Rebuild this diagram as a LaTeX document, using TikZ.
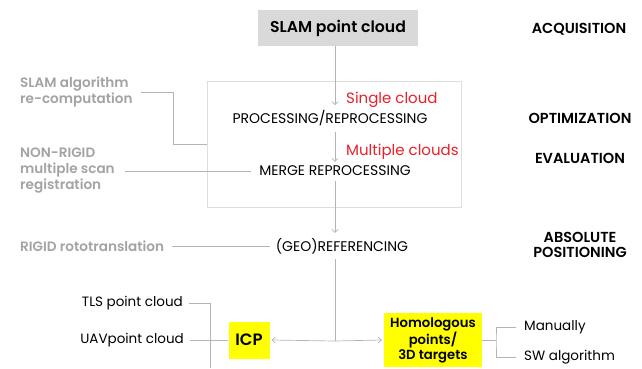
\documentclass[tikz,border=0pt]{standalone}
\usepackage{fontspec}
\setmainfont{Poppins}[BoldFont={Poppins SemiBold}]
\usetikzlibrary{arrows.meta}
\definecolor{sidegrey}{HTML}{A3A3A3}
\definecolor{linegrey}{HTML}{B4B4B4}
\definecolor{slamgrey}{HTML}{D9D9D9}
\definecolor{framegrey}{HTML}{DEDEDE}
\definecolor{cloudred}{HTML}{E8202A}
\definecolor{hlyellow}{HTML}{FFFF00}

\begin{document}
\begin{tikzpicture}[x=1pt, y=-1pt,
    every node/.style={inner sep=0pt},
    stage/.style={font=\fontsize{14.5}{15.5}\selectfont\bfseries, align=center},
    method/.style={font=\fontsize{13.6}{16}\selectfont\bfseries, text=sidegrey, align=left, anchor=west},
    proc/.style={font=\fontsize{14}{15}\selectfont},
    cloud/.style={font=\fontsize{15}{17}\selectfont, text=cloudred, anchor=west},
    hl/.style={fill=hlyellow, font=\fontsize{13.2}{15}\selectfont\bfseries, align=center},
    item/.style={font=\fontsize{13.5}{15}\selectfont},
    conn/.style={draw=linegrey, line width=0.7pt},
    arr/.style={-{Straight Barb[length=3pt, width=6pt]}}]

\useasboundingbox (0,0) rectangle (642,368);

% Main chain
\node[fill=slamgrey, minimum width=160pt, minimum height=36pt,
      font=\fontsize{15.7}{17}\selectfont\bfseries] (slam) at (338,28) {SLAM point cloud};
\node[draw=framegrey, line width=0.7pt, minimum width=254pt, minimum height=126pt] (frame) at (334,144) {};
\node[cloud] (single) at (346,100) {Single cloud};
\node[proc] (proc) at (330,118) {PROCESSING/REPROCESSING};
\node[cloud] (multi) at (346,152) {Multiple clouds};
\node[proc] (merge) at (335,171) {MERGE REPROCESSING};
\node[proc] (georef) at (342,246) {(GEO)REFERENCING};

\coordinate (spine) at (335,0);
\coordinate (hub) at (335,341);
\draw[conn, arr] (spine |- slam.south) -- ([yshift=5pt]spine |- proc.north);
\draw[conn, arr] ([yshift=-6pt]spine |- proc.south) -- ([yshift=4pt]spine |- merge.north);
\draw[conn, arr] ([yshift=-5pt]spine |- merge.south) -- ([yshift=5pt]spine |- georef.north);
\draw[conn] ([yshift=-5pt]spine |- georef.south) -- (hub);

% Stages
\node[stage] (acq) at (579,29) {ACQUISITION};
\node[stage] (opt) at (580,118) {OPTIMIZATION};
\node[stage] (eval) at (580,158) {EVALUATION};
\node[stage] (abspos) at (580,245) {ABSOLUTE\\POSITIONING};

% Alternative methods
\node[method] (slamalg) at (20,92) {SLAM algorithm\\re-computation};
\node[method] (nonrigid) at (20,171) {NON-RIGID\\multiple scan\\registration};
\node[method] (rigid) at (20,246) {RIGID rototranslation};

\coordinate (sa) at (173,144);
\draw[conn] ([xshift=8pt]slamalg.east) -| (sa) -- (sa -| frame.west);
\draw[conn] ([xshift=10pt]nonrigid.east) -- ([xshift=-8pt]merge.west);
\draw[conn] ([xshift=8pt]rigid.east) -- ([xshift=-6pt]georef.west);

% Registration
\node[hl, minimum width=41pt, minimum height=37pt, font=\fontsize{16.5}{17}\selectfont\bfseries] (icp) at (249,340) {ICP};
\node[hl, minimum width=98pt, minimum height=54pt] (homol) at (433,340) {Homologous\\points/\\3D targets};
\draw[conn, arr] (hub) -- ([xshift=2pt]icp.east);
\draw[conn, arr] (hub) -- ([xshift=-2pt]homol.west);

\node[item, anchor=east] (tls) at (183,303) {TLS point cloud};
\node[item, anchor=east] (uav) at (184,340) {UAVpoint cloud};
\coordinate (tlsend) at (210,368);
\draw[conn] ([xshift=6pt]tls.east) -| (tlsend);
\draw[conn] ([xshift=6pt]uav.east) -- (icp.west);

\node[item, anchor=west] (manual) at (524,327) {Manually};
\node[item, anchor=west] (swalg) at (524,357) {SW algorithm};
\coordinate (brk) at (496,340);
\draw[conn] (homol.east) -- (brk);
\draw[conn] ([xshift=-8pt]manual.west) -| (brk) |- ([xshift=-8pt]swalg.west);

\end{tikzpicture}
\end{document}
